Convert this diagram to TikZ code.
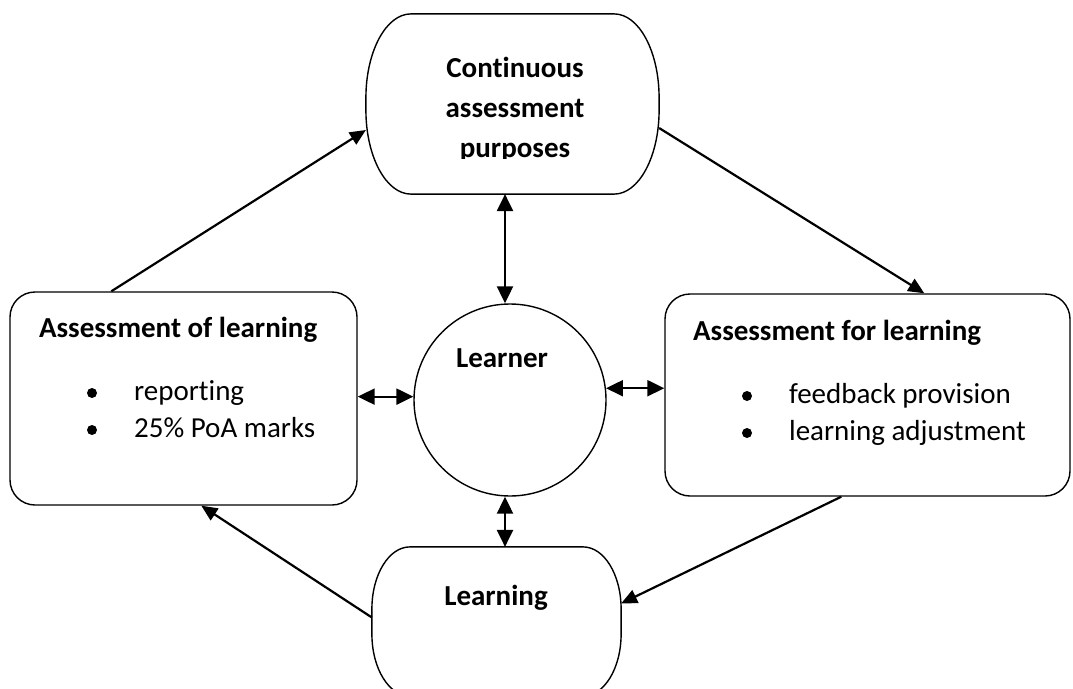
\documentclass[tikz,border=0pt]{standalone}
\usepackage{fontspec}
\setmainfont{Carlito}[RawFeature=-liga]
\usetikzlibrary{calc}
\usetikzlibrary{arrows.meta}

% box with elliptic corners drawn round a named node
\newcommand{\capsule}[3]{%
	\draw[outline] ([xshift=#2]#1.north west) -- ([xshift=-#2]#1.north east)
		arc[start angle=90, end angle=0, x radius=#2, y radius=#3]
		-- ([yshift=#3]#1.south east)
		arc[start angle=0, end angle=-90, x radius=#2, y radius=#3]
		-- ([xshift=#2]#1.south west)
		arc[start angle=270, end angle=180, x radius=#2, y radius=#3]
		-- ([yshift=-#3]#1.north west)
		arc[start angle=180, end angle=90, x radius=#2, y radius=#3]
		-- cycle;%
}

\begin{document}
\begin{tikzpicture}[x=1pt, y=-1pt, >={Triangle[length=16pt, width=14pt]}, line width=2.2pt, font=\fontsize{29}{40}\selectfont]
	\tikzstyle{outline}=[draw=black, line width=1.4pt]
	\tikzstyle{box}=[outline, rectangle, rounded corners=25pt, inner sep=0pt]
	\tikzstyle{frame}=[rectangle, draw=none, inner sep=0pt]
	\tikzstyle{learner}=[outline, circle, inner sep=0pt, minimum size=192pt]
	\tikzstyle{node}=[circle, fill=black, minimum size=10pt, inner sep=0pt]
	\tikzstyle{title}=[font=\fontsize{29}{40}\selectfont\bfseries, inner sep=0pt]
	\tikzstyle{item}=[anchor=base west, inner sep=0pt]
	\tikzstyle{both}=[{Triangle[length=17pt, width=16pt]}-{Triangle[length=17pt, width=16pt]}]

	\useasboundingbox (0,0) rectangle (1073,688);
	\clip (0,0) rectangle (1073,688);

	\node[frame, minimum width=291pt, minimum height=178pt] (cap) at (512.5,104) {};
	\capsule{cap}{45pt}{84pt}
	\node[box, minimum width=347pt, minimum height=213pt] (aol) at (183.5,398.5) {};
	\node[box, minimum width=405pt, minimum height=202pt] (afl) at (867.5,395) {};
	\node[learner] (lrnr) at (510,400) {};
	\node[frame, minimum width=247pt, minimum height=147pt] (lrn) at (496.5,621.5) {};
	\capsule{lrn}{38pt}{62pt}

	\begin{scope}
		\clip (367,15) rectangle (658,158.5);
		\node[title, anchor=base, align=center] (captxt) at (515,157) {Continuous\\assessment\\purposes};
	\end{scope}
	\node[title, anchor=base] (lrnrtxt) at (502,367) {Learner};
	\node[title, anchor=base] (lrntxt) at (496,605) {Learning};

	\node[title, anchor=base west] (aoltxt) at (38,337) {Assessment of learning};
	\node[node] (aoldot1) at (92,393) {};
	\node[node] (aoldot2) at (92,430) {};
	\node[item] (aol1) at (133,400) {reporting};
	\node[item] (aol2) at (133,437) {25\% PoA marks};

	\node[title, anchor=base west] (afltxt) at (692,340) {Assessment for learning};
	\node[node] (afldot1) at (747,396) {};
	\node[node] (afldot2) at (747,433) {};
	\node[item] (afl1) at (788,403) {feedback provision};
	\node[item] (afl2) at (788,440) {learning adjustment};

	%%%%
	\draw[->] ($(aol.north west)+(102,0)$) -- ($(cap.west)+(0,26)$);
	\draw[->] ($(cap.east)+(0,24)$) -- ($(afl.north west)+(260,0)$);
	\draw[->] ($(afl.south west)+(177,0)$) -- ($(lrn.east)+(0,-18)$);
	\draw[->] ($(lrn.west)+(0,-4)$) -- ($(aol.south west)+(192,0)$);

	\draw[both] ($(cap.south)+(-7.5,0)$) -- ($(lrnr.north)+(-5,0)$);
	\draw[both] ($(lrnr.south)+(-5,0)$) -- ($(lrn.north)+(8.5,0)$);
	\draw[both] (lrnr.178 -| aol.east) -- (lrnr.178);
	\draw[both] (lrnr.7) -- (lrnr.7 -| afl.west);
\end{tikzpicture}
\end{document}
